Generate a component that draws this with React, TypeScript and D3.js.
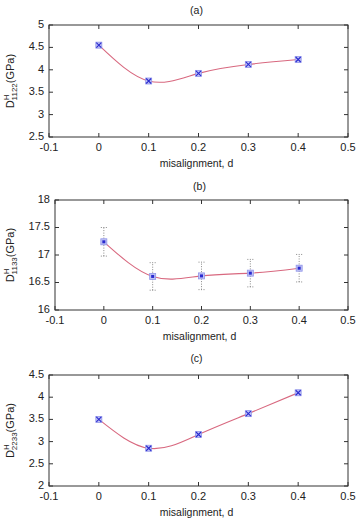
import React from 'react';
import * as d3 from 'd3';

// misalignment values (x)
const misalignment = [0, 0.1, 0.2, 0.3, 0.4];
const xTicks = [-0.1, 0, 0.1, 0.2, 0.3, 0.4, 0.5];

// panel (a) D^H_1122
const d1122 = [4.55, 3.75, 3.92, 4.12, 4.23];
const yTicksA = [2.5, 3, 3.5, 4, 4.5, 5];

// panel (b) D^H_1133 with error bars
const d1133 = [17.24, 16.61, 16.62, 16.67, 16.76];
const err1133 = [0.26, 0.25, 0.25, 0.25, 0.25];
const yTicksB = [16, 16.5, 17, 17.5, 18];

// panel (c) D^H_2233
const d2233 = [3.5, 2.85, 3.16, 3.63, 4.1];
const yTicksC = [2, 2.5, 3, 3.5, 4, 4.5];

const FONT = '"Liberation Sans", Arial, sans-serif';

type PanelProps = {
  title: string;
  sub: string;
  values: number[];
  errors?: number[];
  yTicks: number[];
  titleY: number;
  top: number;
  bottom: number;
  left: number;
  right: number;
  square?: boolean;
};

const Panel = ({ title, sub, values, errors, yTicks, titleY, top, bottom, left, right, square }: PanelProps) => {
  const x = d3.scaleLinear().domain([-0.1, 0.5]).range([left, right]);
  const y = d3.scaleLinear().domain(d3.extent(yTicks) as [number, number]).range([bottom, top]);
  const pts = misalignment.map((m, i) => ({ m, v: values[i], e: errors ? errors[i] : 0 }));
  const line = d3.line<{ m: number; v: number }>().curve(d3.curveNatural).x(d => x(d.m)).y(d => y(d.v));
  const tl = 4;
  const midY = (top + bottom) / 2;

  return (
    <g fontFamily={FONT} fill="#222">
      <text x={(left + right) / 2 - 2} y={titleY} fontSize={10.5} textAnchor="middle" dominantBaseline="middle">{title}</text>

      {/* ticks, mirrored on all sides */}
      {xTicks.map(t => (
        <g key={'x' + t}>
          <line x1={x(t)} x2={x(t)} y1={bottom} y2={bottom - tl} stroke="#333" />
          <line x1={x(t)} x2={x(t)} y1={top} y2={top + tl} stroke="#333" />
          <text x={x(t)} y={bottom + 11} fontSize={11} textAnchor="middle" dominantBaseline="middle">{t}</text>
        </g>
      ))}
      {yTicks.map(t => (
        <g key={'y' + t}>
          <line x1={left} x2={left + tl} y1={y(t)} y2={y(t)} stroke="#333" />
          <line x1={right} x2={right - tl} y1={y(t)} y2={y(t)} stroke="#333" />
          <text x={left - 5} y={y(t)} fontSize={11} textAnchor="end" dominantBaseline="middle">{t}</text>
        </g>
      ))}
      <rect x={left} y={top} width={right - left} height={bottom - top} fill="none" stroke="#333" strokeWidth={1} />

      <text x={(left + right) / 2 - 2} y={bottom + 27} fontSize={10.5} textAnchor="middle" dominantBaseline="middle">misalignment, d</text>

      {/* y label */}
      <text transform={`translate(14,${midY}) rotate(-90)`} fontSize={11} textAnchor="middle">
        D<tspan fontSize={8} dy={-5}>H</tspan><tspan fontSize={8} dy={8} dx={-6}>{sub}</tspan><tspan dy={-3}>(GPa)</tspan>
      </text>

      {/* error bars */}
      {errors && pts.map((p, i) => (
        <g key={'e' + i} stroke="#888" strokeWidth={1} strokeDasharray="1,1.5">
          <line x1={x(p.m)} x2={x(p.m)} y1={y(p.v - p.e)} y2={y(p.v + p.e)} />
          <line x1={x(p.m) - 3} x2={x(p.m) + 3} y1={y(p.v + p.e)} y2={y(p.v + p.e)} />
          <line x1={x(p.m) - 3} x2={x(p.m) + 3} y1={y(p.v - p.e)} y2={y(p.v - p.e)} />
        </g>
      ))}

      <path d={line(pts) || ''} fill="none" stroke="#d8687f" strokeWidth={1.1} />

      {pts.map((p, i) => (
        <g key={'p' + i}>
          <rect x={x(p.m) - 3} y={y(p.v) - 3} width={6} height={6} fill="#c0c3f4" stroke="#9094ea" strokeWidth={0.8} />
          {square ? (
            <rect x={x(p.m) - 1.5} y={y(p.v) - 1.5} width={3} height={3} fill="#2a2ad0" />
          ) : (
            <path
              d={`M${x(p.m) - 2.5},${y(p.v) - 2.5}L${x(p.m) + 2.5},${y(p.v) + 2.5}M${x(p.m) + 2.5},${y(p.v) - 2.5}L${x(p.m) - 2.5},${y(p.v) + 2.5}`}
              stroke="#2a2ad0" strokeWidth={1.1}
            />
          )}
        </g>
      ))}
    </g>
  );
};

export default function App() {
  return (
    <svg width={358} height={520} style={{ position: 'absolute', left: 0, top: 0, background: '#fff' }}>
      <rect width={358} height={520} fill="#fff" />
      <Panel title="(a)" sub="1122" values={d1122} yTicks={yTicksA} titleY={11} top={25} bottom={137} left={49} right={348} />
      <Panel title="(b)" sub="1133" values={d1133} errors={err1133} yTicks={yTicksB} titleY={187} top={200} bottom={310} left={55} right={348} square />
      <Panel title="(c)" sub="2233" values={d2233} yTicks={yTicksC} titleY={359} top={375} bottom={486} left={49} right={348} />
    </svg>
  );
}
